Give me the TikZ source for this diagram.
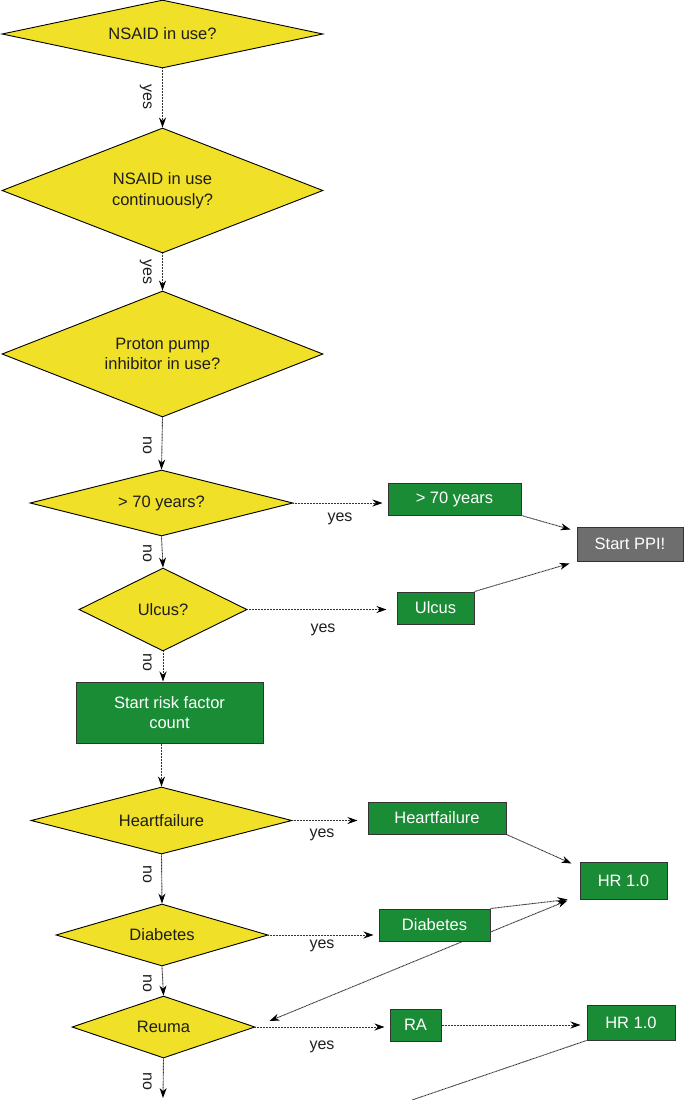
\documentclass[tikz,border=0pt]{standalone}
\usepackage{fontspec}
\setmainfont{Liberation Sans}
\usetikzlibrary{shapes.geometric,arrows.meta,calc}
\definecolor{dyellow}{RGB}{240,224,39}
\definecolor{dgreen}{RGB}{26,140,53}
\definecolor{dgray}{RGB}{110,110,110}
\definecolor{dtext}{RGB}{30,30,30}
\tikzset{
  dec/.style={shape=diamond, draw=black, line width=0.9pt, fill=dyellow, inner sep=0pt, text=dtext, align=center, font=\fontsize{16.5}{20.5}\selectfont},
  gbox/.style={rectangle, draw=black!80, line width=1pt, fill=dgreen, text=white, inner sep=0pt, align=center, font=\fontsize{16.5}{20.5}\selectfont},
  graybox/.style={gbox, fill=dgray},
  conn/.style={draw=black!80, line width=0.9pt, dash pattern=on 1pt off 0.5pt, -{Stealth[length=10pt,width=7pt,black]}},
  plainconn/.style={draw=black!80, line width=0.9pt, dash pattern=on 1pt off 0.5pt},
  lab/.style={text=dtext, font=\fontsize{16}{19}\selectfont, inner sep=0pt},
  vlab/.style={lab, rotate=-90, anchor=north},
}
\begin{document}
\begin{tikzpicture}[x=1pt,y=-1pt]
\useasboundingbox (0,0) rectangle (685,1100);
% decisions
\node[dec, aspect=4.72, minimum width=321pt, minimum height=68pt] (D1) at (162.5,34) {NSAID in use?};
\node[dec, aspect=2.57, minimum width=321pt, minimum height=125pt] (D2) at (162.5,190.5) {NSAID in use\\continuously?};
\node[dec, aspect=2.55, minimum width=321pt, minimum height=126pt] (D3) at (162.5,354) {Proton pump\\inhibitor in use?};
\node[dec, aspect=3.98, minimum width=263pt, minimum height=66pt] (D4) at (161.5,503) {> 70 years?};
\node[dec, aspect=2.02, minimum width=168pt, minimum height=83pt] (D5) at (163,609.5) {Ulcus?};
\node[gbox, minimum width=187pt, minimum height=61pt] (Brisk) at (169.5,712.5) {Start risk factor\\count};
\node[dec, aspect=3.9, minimum width=261pt, minimum height=67pt] (D6) at (161.5,820.5) {Heartfailure};
\node[dec, aspect=3.42, minimum width=212pt, minimum height=62pt] (D7) at (162,935) {Diabetes};
\node[dec, aspect=2.95, minimum width=183pt, minimum height=62pt] (D8) at (163.5,1027) {Reuma};
% result boxes
\node[gbox, minimum width=133pt, minimum height=32pt] (B70) at (454.5,499) {> 70 years};
\node[graybox, minimum width=106pt, minimum height=34pt] (Bppi) at (630,544) {Start PPI!};
\node[gbox, minimum width=77pt, minimum height=32pt] (Bulc) at (435.5,608) {Ulcus};
\node[gbox, minimum width=138pt, minimum height=32pt] (Bhf) at (437,818) {Heartfailure};
\node[gbox, minimum width=87pt, minimum height=37pt] (Bhr1) at (623.5,880.5) {HR 1.0};
\node[gbox, minimum width=111pt, minimum height=32pt] (Bdia) at (434.5,925) {Diabetes};
\node[gbox, minimum width=51pt, minimum height=32pt] (Bra) at (415.5,1025) {RA};
\node[gbox, minimum width=88pt, minimum height=35pt] (Bhr2) at (631,1022.5) {HR 1.0};
% free ends
\coordinate (end) at (163,1098);
\coordinate (tail) at (412,1100);
% vertical connectors
\draw[conn] (D1.south) -- (D2.north);
\draw[conn] (D2.south) -- (D3.north);
\draw[conn] (D3.south) -- (D4.north);
\draw[conn] (D4.south) -- (D5.north);
\draw[conn] (D5.south) -- (D5.south |- Brisk.north);
\draw[conn] (D6.north |- Brisk.south) -- (D6.north);
\draw[conn] (D6.south) -- (D7.north);
\draw[conn] (D7.south) -- (D8.north);
\draw[conn] (D8.south) -- (end);
% vertical labels
\node[vlab] (L1) at (152,97) {yes};
\node[vlab] (L2) at (152,272) {yes};
\node[vlab] (L3) at (152,445) {no};
\node[vlab] (L4) at (152,553) {no};
\node[vlab] (L5) at (152,662) {no};
\node[vlab] (L6) at (152,874) {no};
\node[vlab] (L7) at (152,983) {no};
\node[vlab] (L8) at (152,1081) {no};
% horizontal connectors
\draw[conn] (D4.east) -- ($(B70.west |- D4.east)+(-5,0)$);
\draw[conn] (D5.east) -- ($(Bulc.west |- D5.east)+(-10,0)$);
\draw[conn] (D6.east) -- ($(Bhf.west |- D6.east)+(-10,0)$);
\draw[conn] (D7.east) -- ($(Bdia.west |- D7.east)+(-5,0)$);
\draw[conn] (D8.east) -- ($(Bra.west |- D8.east)+(-5,0)$);
\draw[conn] (Bra.east) -- ($(Bhr2.west |- Bra.east)+(-6,0)$);
% horizontal labels
\node[lab] (Y4) at (340,519) {yes};
\node[lab] (Y5) at (323,630) {yes};
\node[lab] (Y6) at (322,835) {yes};
\node[lab] (Y7) at (322,946) {yes};
\node[lab] (Y8) at (322,1047) {yes};
% diagonal connectors
\draw[conn] (B70.south east) -- ($(Bppi.north west)+(-6,3)$);
\draw[conn] (Bulc.north east) -- ($(Bppi.south west)+(-7,2)$);
\draw[conn] (Bhf.south east) -- ($(Bhr1.north west)+(-8,2)$);
\draw[conn] (Bdia.north east) -- ($(Bhr1.south west)+(-12,0)$);
\draw[conn] ($(Bdia.east)+(0,7)$) -- ($(Bhr1.south west)+(-12,1)$);
\draw[conn] ($(Bdia.south east)+(-28,0)$) -- ($(D8.east)+(14,-6)$);
\draw[plainconn] (Bhr2.south west) -- (tail);
\end{tikzpicture}
\end{document}
